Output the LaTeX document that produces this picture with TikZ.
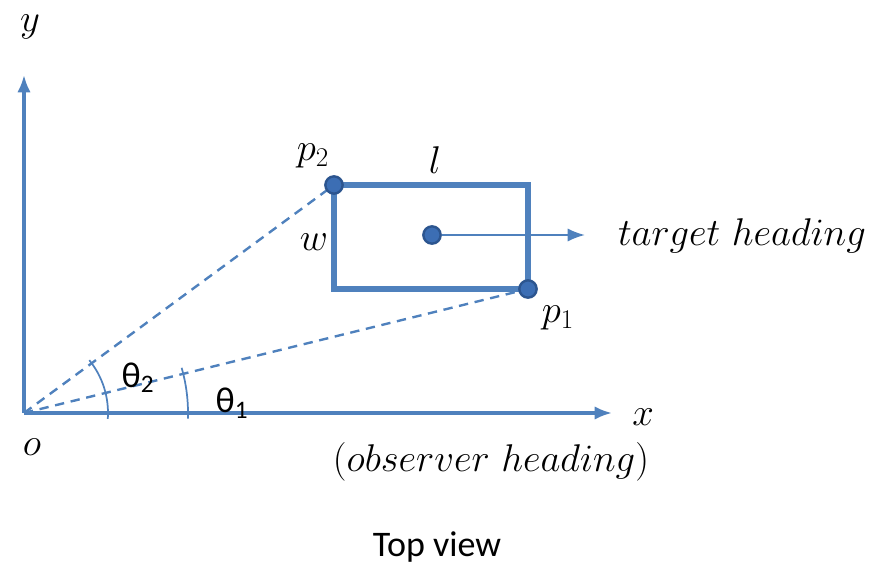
\RequirePackage{fix-cm}
\documentclass[tikz,border=0pt]{standalone}
\usepackage{fontspec}
\usepackage{tikz}
\usetikzlibrary{arrows.meta, positioning, calc}
\newfontfamily\calibri{Carlito}
\definecolor{axblue}{HTML}{4F81BD}
\definecolor{dotblue}{HTML}{3C6EB4}
\definecolor{dotedge}{HTML}{2C558F}

\begin{document}
\begin{tikzpicture}[
  x=0.75pt, y=0.75pt,
  axis/.style={draw=axblue, line width=2.3pt, -{Latex[length=13pt,width=10pt]}},
  ray/.style={draw=axblue, line width=1.8pt, dash pattern=on 7pt off 5pt},
  bbox/.style={draw=axblue, line width=3.8pt},
  angarc/.style={draw=axblue, line width=1.3pt},
  dot/.style={circle, fill=dotblue, draw=dotedge, line width=1.8pt, inner sep=0pt, minimum size=13pt},
  mlabel/.style={font=\fontsize{29}{34}\selectfont},
  slabel/.style={font=\calibri\fontsize{27}{30}\selectfont}
]
\useasboundingbox (0,0) rectangle (870,565);

% axes
\coordinate (o) at (24,152);
\coordinate (ytip) at (24,490);
\coordinate (xtip) at (612,152);
\draw[axis] (o) -- (ytip);
\draw[axis] (o) -- (xtip);

% target box
\coordinate (c2) at (334,380);
\coordinate (c1) at (528,276);
\draw[bbox] (c2) rectangle (c1);

% rays to the corners
\draw[ray] (o) -- (c2);
\draw[ray] (o) -- (c1);

% angles
\draw[angarc] ($(o)+(-4:63pt)$) arc (-4:39:63pt);
\draw[angarc] ($(o)+(-2:123pt)$) arc (-2:16:123pt);

% heading
\node (ctr) [dot] at (432,330) {};
\coordinate (hd) at (585,330);
\draw[axis, line width=1.7pt] (ctr) -- (hd);
\node (p2dot) [dot] at (c2) {};
\node (p1dot) [dot] at (c1) {};

% labels
\node (ylab) [mlabel] at (30,538) {$y$};
\node (xlab) [mlabel] at (643,148) {$x$};
\node (olab) [mlabel] at (32,118) {$o$};
\node (obs) [mlabel] at (491,103) {$(observer\ heading)$};
\node (tgt) [mlabel] at (742,329) {$target\ heading$};
\node (p2lab) [mlabel] at (313,409) {$p_2$};
\node (llab) [mlabel] at (435,405) {$l$};
\node (wlab) [mlabel] at (314,323) {$w$};
\node (p1lab) [mlabel] at (558,247) {$p_1$};
\node (th2) [slabel] at (138,187) {θ\textsubscript{2}};
\node (th1) [slabel] at (232,162) {θ\textsubscript{1}};
\node (title) [slabel] at (437,18) {Top view};

\end{tikzpicture}
\end{document}
